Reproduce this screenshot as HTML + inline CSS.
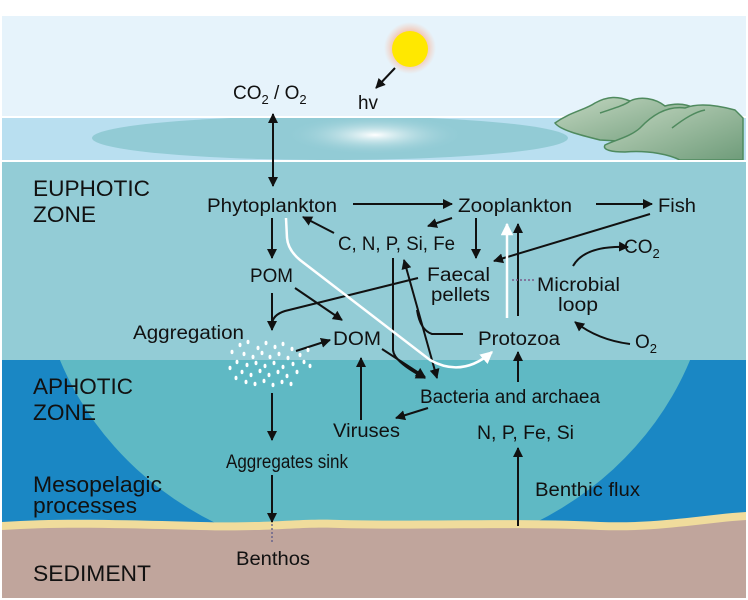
<!DOCTYPE html>
<html><head><meta charset="utf-8"><style>
html,body{margin:0;padding:0;background:#fff}
svg{display:block}
text{font-family:"Liberation Sans",sans-serif;fill:#111}
</style></head><body>
<svg width="748" height="600" viewBox="0 0 748 600" xmlns="http://www.w3.org/2000/svg">
<defs>
<marker id="a" viewBox="0 0 10 10" refX="9" refY="5" markerWidth="5" markerHeight="5" orient="auto-start-reverse"><path d="M0,0 L10,5 L0,10 z" fill="#111"/></marker>
<marker id="w" viewBox="0 0 10 10" refX="9" refY="5" markerWidth="5" markerHeight="5" orient="auto"><path d="M0,0 L10,5 L0,10 z" fill="#fff"/></marker>
<radialGradient id="glow" cx="0.5" cy="0.5" r="0.5"><stop offset="0.6" stop-color="#f7b9a0" stop-opacity="0.9"/><stop offset="1" stop-color="#f7c6b0" stop-opacity="0"/></radialGradient>
<radialGradient id="shine" cx="0.5" cy="0.5" r="0.5"><stop offset="0" stop-color="#ffffff"/><stop offset="1" stop-color="#92cbd5" stop-opacity="0"/></radialGradient>
<linearGradient id="hill" x1="0" y1="0" x2="1" y2="1"><stop offset="0" stop-color="#c2d6c0"/><stop offset="1" stop-color="#6f9c7a"/></linearGradient>
<clipPath id="aph"><rect x="2" y="360" width="744" height="170"/></clipPath>
</defs>
<rect x="2" y="16" width="744" height="101" fill="#e6f3fb"/>
<rect x="2" y="117" width="744" height="43" fill="#b9dff0"/>
<ellipse cx="330" cy="138" rx="238" ry="22" fill="#92cbd5"/>
<ellipse cx="375" cy="135" rx="90" ry="20" fill="url(#shine)"/>
<line x1="2" y1="117" x2="746" y2="117" stroke="#fff" stroke-width="2"/>
<path d="M555,123 C570,112 585,110 595,103 C608,96 618,96 630,101 C640,96 655,98 665,106 C680,102 695,104 705,118 L690,145 L600,140 C580,135 560,130 555,123 Z" fill="url(#hill)" stroke="#4f8a5e" stroke-width="1.5"/>
<path d="M600,113 C615,108 625,105 630,101" fill="none" stroke="#4f8a5e" stroke-width="1.5"/>
<path d="M605,145 C615,140 630,137 640,128 C655,112 670,106 685,108 C700,102 720,106 735,110 L743,118 L743,160 L680,160 C670,155 650,150 625,152 C612,152 602,150 605,145 Z" fill="url(#hill)" stroke="#4f8a5e" stroke-width="1.5"/>
<path d="M672,128 C685,118 695,112 705,110" fill="none" stroke="#4f8a5e" stroke-width="1.5"/>
<rect x="2" y="161" width="744" height="199" fill="#93ccd6"/>
<line x1="2" y1="161" x2="746" y2="161" stroke="#fff" stroke-width="2"/>
<rect x="2" y="360" width="744" height="170" fill="#1a87c4"/>
<ellipse cx="375" cy="250" rx="337" ry="310" fill="#5fb9c4" clip-path="url(#aph)"/>
<path d="M2,522 C60,518 120,520 200,522 C270,524 300,518 340,520 C420,522 520,518 600,522 C660,524 700,515 746,512 L746,598 L2,598 Z" fill="#f0dc9c"/>
<path d="M2,530 C60,526 120,528 200,530 C270,532 300,526 340,528 C420,530 520,526 600,530 C660,532 700,523 746,520 L746,598 L2,598 Z" fill="#c0a59c"/>
<circle cx="410" cy="48" r="26" fill="url(#glow)"/>
<ellipse cx="410" cy="49" rx="18" ry="18" fill="#ffe800"/>
<g font-size="22" lengthAdjust="spacingAndGlyphs">
<text x="33" y="196" textLength="117" lengthAdjust="spacingAndGlyphs">EUPHOTIC</text>
<text x="33" y="222" textLength="63" lengthAdjust="spacingAndGlyphs">ZONE</text>
<text x="33" y="394" textLength="100" lengthAdjust="spacingAndGlyphs">APHOTIC</text>
<text x="33" y="420" textLength="63" lengthAdjust="spacingAndGlyphs">ZONE</text>
<text x="33" y="492" textLength="129" lengthAdjust="spacingAndGlyphs">Mesopelagic</text>
<text x="33" y="513" textLength="104" lengthAdjust="spacingAndGlyphs">processes</text>
<text x="33" y="581" textLength="118" lengthAdjust="spacingAndGlyphs">SEDIMENT</text>
</g>
<g font-size="19">
<text x="233" y="99">CO<tspan font-size="13" dy="5">2</tspan><tspan dy="-5"> / O</tspan><tspan font-size="13" dy="5">2</tspan></text>
<text x="358" y="109" textLength="20" lengthAdjust="spacingAndGlyphs">hv</text>
<text x="207" y="212" textLength="130" lengthAdjust="spacingAndGlyphs">Phytoplankton</text>
<text x="458" y="212" textLength="114" lengthAdjust="spacingAndGlyphs">Zooplankton</text>
<text x="658" y="212" textLength="38" lengthAdjust="spacingAndGlyphs">Fish</text>
<text x="338" y="250" textLength="117" lengthAdjust="spacingAndGlyphs">C, N, P, Si, Fe</text>
<text x="624" y="253">CO<tspan font-size="13" dy="5">2</tspan></text>
<text x="250" y="282" textLength="43" lengthAdjust="spacingAndGlyphs">POM</text>
<text x="427" y="281" textLength="63" lengthAdjust="spacingAndGlyphs">Faecal</text>
<text x="431" y="301" textLength="59" lengthAdjust="spacingAndGlyphs">pellets</text>
<text x="537" y="291" textLength="83" lengthAdjust="spacingAndGlyphs">Microbial</text>
<text x="558" y="311" textLength="40" lengthAdjust="spacingAndGlyphs">loop</text>
<text x="133" y="339" textLength="111" lengthAdjust="spacingAndGlyphs">Aggregation</text>
<text x="333" y="345" textLength="48" lengthAdjust="spacingAndGlyphs">DOM</text>
<text x="478" y="345" textLength="82" lengthAdjust="spacingAndGlyphs">Protozoa</text>
<text x="635" y="348">O<tspan font-size="13" dy="5">2</tspan></text>
<text x="420" y="403" textLength="180" lengthAdjust="spacingAndGlyphs">Bacteria and archaea</text>
<text x="333" y="437" textLength="67" lengthAdjust="spacingAndGlyphs">Viruses</text>
<text x="477" y="439" textLength="97" lengthAdjust="spacingAndGlyphs">N, P, Fe, Si</text>
<text x="226" y="468" textLength="122" lengthAdjust="spacingAndGlyphs">Aggregates sink</text>
<text x="535" y="496" textLength="105" lengthAdjust="spacingAndGlyphs">Benthic flux</text>
<text x="236" y="565" textLength="74" lengthAdjust="spacingAndGlyphs">Benthos</text>
</g>
<g stroke="#111" stroke-width="2" fill="none" marker-end="url(#a)">
<line x1="273" y1="114" x2="273" y2="186" marker-start="url(#a)"/>
<line x1="395" y1="68" x2="376" y2="88"/>
<line x1="353" y1="204" x2="452" y2="204"/>
<line x1="596" y1="204" x2="652" y2="204"/>
<line x1="272" y1="218" x2="272" y2="258"/>
<line x1="334" y1="233" x2="303" y2="217"/>
<line x1="452" y1="218" x2="428" y2="226"/>
<line x1="476" y1="218" x2="476" y2="258"/>
<line x1="650" y1="214" x2="494" y2="261"/>
<line x1="518" y1="316" x2="518" y2="224"/>
<line x1="272" y1="293" x2="272" y2="330"/>
<line x1="295" y1="288" x2="342" y2="320"/>
<path d="M418,278 L285,311 Q272,315 272,325" marker-end="none"/>
<path d="M573,266 Q585,245 628,247"/>
<path d="M630,344 Q598,340 575,322"/>
<line x1="296" y1="351" x2="330" y2="340"/>
<path d="M463,334 L432,334 Q420,330 417,310" marker-end="none"/>
<line x1="404" y1="260" x2="437" y2="378" marker-start="url(#a)"/>
<path d="M393,258 L393,350 Q394,362 425,378"/>
<line x1="382" y1="349" x2="425" y2="377"/>
<line x1="361" y1="420" x2="361" y2="358"/>
<line x1="428" y1="408" x2="396" y2="418"/>
<line x1="518" y1="382" x2="518" y2="352"/>
<line x1="272" y1="393" x2="272" y2="440"/>
<line x1="272" y1="475" x2="272" y2="522"/>
<line x1="518" y1="526" x2="518" y2="448"/>
</g>
<line x1="272" y1="524" x2="272" y2="544" stroke="#5a5a8a" stroke-width="1.3" stroke-dasharray="2,2"/>
<line x1="512" y1="280" x2="535" y2="280" stroke="#7a5a8a" stroke-width="1.5" stroke-dasharray="2,2"/>
<path d="M286,218 L287,238 Q288,250 300,260 L430,360 Q462,378 492,352" stroke="#fff" stroke-width="2.5" fill="none" marker-end="url(#w)"/>
<line x1="507" y1="318" x2="507" y2="224" stroke="#fff" stroke-width="2.5" marker-end="url(#w)"/>
<g fill="#fff">
<ellipse cx="240" cy="345" rx="1.5" ry="2.2"/><ellipse cx="248" cy="342" rx="1.5" ry="2.2"/><ellipse cx="258" cy="348" rx="1.5" ry="2.2"/><ellipse cx="266" cy="343" rx="1.5" ry="2.2"/><ellipse cx="275" cy="347" rx="1.5" ry="2.2"/><ellipse cx="283" cy="344" rx="1.5" ry="2.2"/><ellipse cx="292" cy="349" rx="1.5" ry="2.2"/><ellipse cx="232" cy="352" rx="1.5" ry="2.2"/><ellipse cx="244" cy="354" rx="1.5" ry="2.2"/><ellipse cx="253" cy="357" rx="1.5" ry="2.2"/><ellipse cx="262" cy="353" rx="1.5" ry="2.2"/><ellipse cx="270" cy="357" rx="1.5" ry="2.2"/><ellipse cx="279" cy="354" rx="1.5" ry="2.2"/><ellipse cx="288" cy="358" rx="1.5" ry="2.2"/><ellipse cx="300" cy="355" rx="1.5" ry="2.2"/><ellipse cx="308" cy="350" rx="1.5" ry="2.2"/><ellipse cx="237" cy="362" rx="1.5" ry="2.2"/><ellipse cx="247" cy="365" rx="1.5" ry="2.2"/><ellipse cx="256" cy="363" rx="1.5" ry="2.2"/><ellipse cx="265" cy="366" rx="1.5" ry="2.2"/><ellipse cx="274" cy="363" rx="1.5" ry="2.2"/><ellipse cx="283" cy="367" rx="1.5" ry="2.2"/><ellipse cx="293" cy="364" rx="1.5" ry="2.2"/><ellipse cx="304" cy="362" rx="1.5" ry="2.2"/><ellipse cx="242" cy="372" rx="1.5" ry="2.2"/><ellipse cx="251" cy="375" rx="1.5" ry="2.2"/><ellipse cx="260" cy="371" rx="1.5" ry="2.2"/><ellipse cx="269" cy="375" rx="1.5" ry="2.2"/><ellipse cx="278" cy="372" rx="1.5" ry="2.2"/><ellipse cx="287" cy="376" rx="1.5" ry="2.2"/><ellipse cx="297" cy="372" rx="1.5" ry="2.2"/><ellipse cx="246" cy="382" rx="1.5" ry="2.2"/><ellipse cx="255" cy="384" rx="1.5" ry="2.2"/><ellipse cx="264" cy="381" rx="1.5" ry="2.2"/><ellipse cx="273" cy="385" rx="1.5" ry="2.2"/><ellipse cx="282" cy="382" rx="1.5" ry="2.2"/><ellipse cx="291" cy="384" rx="1.5" ry="2.2"/><ellipse cx="230" cy="368" rx="1.5" ry="2.2"/><ellipse cx="310" cy="366" rx="1.5" ry="2.2"/><ellipse cx="236" cy="378" rx="1.5" ry="2.2"/>
</g>
</svg>
</body></html>
